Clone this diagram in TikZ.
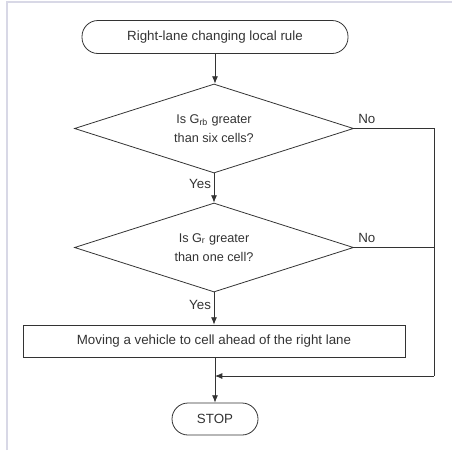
\documentclass[tikz,border=0pt]{standalone}
\usepackage{fontspec}
\setmainfont{Liberation Sans}
\usetikzlibrary{shapes.geometric,arrows.meta}
\definecolor{ink}{HTML}{333333}
\definecolor{framecol}{HTML}{D8D8E6}
\tikzset{
  base/.style={draw=ink, line width=0.6pt, text=ink, font=\fontsize{10}{12}\selectfont},
  terminal/.style={base, rectangle, rounded corners=12pt, inner sep=0pt},
  decision/.style={draw=ink, line width=0.6pt, diamond, inner sep=0pt,
    minimum width=209.25pt, minimum height=66.75pt},
  question/.style={text=ink, align=center, inner sep=0pt,
    font=\fontsize{9.5}{14}\selectfont},
  process/.style={base, rectangle, inner sep=0pt},
  flow/.style={draw=ink, line width=0.6pt, -{Latex[length=5.5pt,width=4.5pt]}},
  plain/.style={draw=ink, line width=0.6pt},
  tag/.style={text=ink, font=\fontsize{10}{12}\selectfont, inner sep=1pt}
}
\begin{document}
\begin{tikzpicture}[x=0.75pt,y=-0.75pt]
\useasboundingbox (0,0) rectangle (452,450);
% page frame
\draw[framecol, line width=0.8pt] (7,450) -- (7,2) -- (452,2);

\node[terminal, minimum width=199.5pt, minimum height=24.75pt] (start) at (215,37)
  {Right-lane changing local rule};

\node[decision] (d1) at (214,128.5) {};
\node[question] (q1) at (d1.center) {Is G\textsubscript{rb} greater\\than six cells?};

\node[decision] (d2) at (214,247.5) {};
\node[question] (q2) at (d2.center) {Is G\textsubscript{r} greater\\than one cell?};

\node[process, minimum width=286.5pt, minimum height=24pt] (move) at (214,341)
  {Moving a vehicle to cell ahead of the right lane};
\node[terminal, minimum width=64.5pt, minimum height=24pt] (stop) at (215,419)
  {STOP};

\coordinate (rt) at (434,128.5);
\coordinate (merge) at (215,376);

\draw[flow] (start.south) -- (start.south |- d1.north);
\draw[flow] (d1.south) -- node[tag, pos=0.35, left=1pt] {Yes} (d1.south |- d2.north);
\draw[flow] (d2.south) -- node[tag, pos=0.4, left=1pt] {Yes} (d2.south |- move.north);
\draw[flow] (move.south -| stop.north) -- (stop.north);

\draw[plain] (d1.east) node[tag, anchor=south west, xshift=2pt, yshift=2pt] {No}
  -- (rt) -- (rt |- merge);
\draw[plain] (d2.east) node[tag, anchor=south west, xshift=2pt, yshift=2pt] {No}
  -- (d2.east -| rt);
\draw[flow] (rt |- merge) -- (merge);
\end{tikzpicture}
\end{document}
